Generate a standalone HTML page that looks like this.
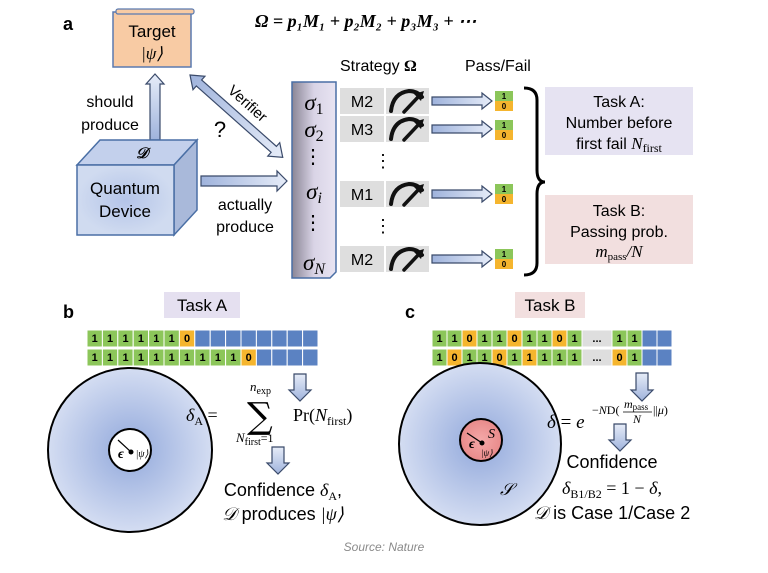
<!DOCTYPE html>
<html><head><meta charset="utf-8"><style>
body{margin:0;background:#fff}
svg{font-family:"Liberation Sans",sans-serif}
.s{font-family:"Liberation Serif",serif;font-style:italic}
.n{font-style:normal}
</style></head><body>
<svg width="768" height="568" viewBox="0 0 768 568" xmlns="http://www.w3.org/2000/svg">
<defs>
<linearGradient id="ar" x1="0" x2="1"><stop offset="0" stop-color="#9fb3dc"/><stop offset="1" stop-color="#e6ecf8"/></linearGradient>
<linearGradient id="arv" x1="0" y1="0" x2="0" y2="1"><stop offset="0" stop-color="#e6ecf8"/><stop offset="1" stop-color="#9fb3dc"/></linearGradient>
<linearGradient id="sg" x1="0" x2="1"><stop offset="0" stop-color="#8a8595"/><stop offset="0.5" stop-color="#d9d4e6"/><stop offset="1" stop-color="#e8e4f2"/></linearGradient>
<radialGradient id="cb"><stop offset="0" stop-color="#b4c4e8"/><stop offset="1" stop-color="#d0dbf0"/></radialGradient>
<radialGradient id="dc"><stop offset="0.2" stop-color="#9fb3e0"/><stop offset="1" stop-color="#d4ddf2"/></radialGradient>
<radialGradient id="rc"><stop offset="0" stop-color="#f4a8a8"/><stop offset="1" stop-color="#e88a8a"/></radialGradient>
<g id="meter"><path d="M-16,10 Q-14,-8 2,-10 Q10,-10 15,-4" fill="none" stroke="#111" stroke-width="4" stroke-linecap="round"/><path d="M-3,11 L13,-6" stroke="#111" stroke-width="3.5" stroke-linecap="round"/><path d="M17,-10 L7,-7 L14,0 Z" fill="#111"/></g>
</defs>
<text x="63" y="30" font-size="18" font-weight="bold">a</text>
<text x="255" y="27" font-size="18" class="s" font-weight="bold">Ω = p₁M₁ + p₂M₂ + p₃M₃ + ⋯</text>
<rect x="113" y="12" width="78" height="55" fill="#f8cba4" stroke="#5a7ab0" stroke-width="1.5"/>
<rect x="116" y="9" width="78" height="5" rx="2" fill="#f8cba4" stroke="#5a7ab0" stroke-width="1.2"/>
<text x="152" y="37" font-size="17" text-anchor="middle">Target</text>
<text x="152" y="59" font-size="17" text-anchor="middle" class="s">|ψ⟩</text>
<path d="M150,140 V84 H146 L155,74 L164,84 H160 V140 Z" fill="url(#arv)" stroke="#3a4a6a" stroke-width="1.2"/>
<text x="110" y="107" font-size="16" text-anchor="middle">should</text>
<text x="110" y="130" font-size="16" text-anchor="middle">produce</text>
<g transform="translate(190,75) rotate(41.6)">
<path d="M0,0 L12,-9 V-4 H112 V-9 L124,0 L112,9 V4 H12 V9 Z" fill="url(#ar)" stroke="#3a4a6a" stroke-width="1.2"/>
<text x="62" y="-12" font-size="15" text-anchor="middle">Verifier</text>
</g>
<text x="220" y="137" font-size="22" text-anchor="middle">?</text>
<path d="M77,165 L100,140 L197,140 L174,165 Z" fill="#c3d0ec" stroke="#4a6fa5" stroke-width="1.5"/>
<path d="M174,165 L197,140 L197,210 L174,235 Z" fill="#a9b9da" stroke="#4a6fa5" stroke-width="1.5"/>
<rect x="77" y="165" width="97" height="70" fill="url(#cb)" stroke="#4a6fa5" stroke-width="1.5"/>
<text x="142" y="158" font-size="15" class="s" text-anchor="middle" font-weight="bold">𝒟</text>
<text x="125" y="194" font-size="17" text-anchor="middle">Quantum</text>
<text x="125" y="217" font-size="17" text-anchor="middle">Device</text>
<path d="M201,176 H277 V171 L287,181 L277,191 V186 H201 Z" fill="url(#ar)" stroke="#3a4a6a" stroke-width="1.2"/>
<text x="245" y="210" font-size="16" text-anchor="middle">actually</text>
<text x="245" y="232" font-size="16" text-anchor="middle">produce</text>
<path d="M292,82 H336 V272 L330,278 H292 Z" fill="url(#sg)" stroke="#4a6fa5" stroke-width="1.5"/>
<g font-size="23" class="s" text-anchor="middle">
<text x="314" y="110">σ<tspan font-size="16" class="n" dy="4">1</tspan></text>
<text x="314" y="137">σ<tspan font-size="16" class="n" dy="4">2</tspan></text>
<text x="314" y="199">σ<tspan font-size="16" dy="4">i</tspan></text>
<text x="314" y="270">σ<tspan font-size="16" dy="4">N</tspan></text>
<text x="313" y="163" class="n" font-size="20">⋮</text><text x="313" y="229" class="n" font-size="20">⋮</text>
</g>
<text x="340" y="71" font-size="16">Strategy <tspan font-weight="bold" font-family="Liberation Serif">Ω</tspan></text>
<text x="465" y="71" font-size="16">Pass/Fail</text>
<g font-size="16">
<rect x="340" y="88" width="44" height="26" fill="#dedede"/><rect x="386" y="88" width="43" height="26" fill="#dedede"/><text x="362" y="107" text-anchor="middle">M2</text>
<rect x="340" y="116" width="44" height="26" fill="#dedede"/><rect x="386" y="116" width="43" height="26" fill="#dedede"/><text x="362" y="135" text-anchor="middle">M3</text>
<rect x="340" y="181" width="44" height="26" fill="#dedede"/><rect x="386" y="181" width="43" height="26" fill="#dedede"/><text x="362" y="200" text-anchor="middle">M1</text>
<rect x="340" y="246" width="44" height="26" fill="#dedede"/><rect x="386" y="246" width="43" height="26" fill="#dedede"/><text x="362" y="265" text-anchor="middle">M2</text>
<text x="383" y="167" font-size="18" text-anchor="middle">⋮</text><text x="383" y="232" font-size="18" text-anchor="middle">⋮</text>
</g>
<use href="#meter" x="407" y="101"/>
<use href="#meter" x="407" y="129"/>
<use href="#meter" x="407" y="194"/>
<use href="#meter" x="407" y="259"/>
<g stroke="#3a4a6a" stroke-width="1.2" fill="url(#ar)">
<path d="M432,97 H482 V93 L492,101 L482,109 V105 H432 Z"/>
<path d="M432,125 H482 V121 L492,129 L482,137 V133 H432 Z"/>
<path d="M432,190 H482 V186 L492,194 L482,202 V198 H432 Z"/>
<path d="M432,255 H482 V251 L492,259 L482,267 V263 H432 Z"/>
</g>
<g font-size="8" font-weight="bold" text-anchor="middle">
<rect x="495" y="91" width="18" height="10" fill="#8cc65a"/><rect x="495" y="101" width="18" height="10" fill="#f5b52e"/><text x="504" y="99">1</text><text x="504" y="109">0</text>
<rect x="495" y="120" width="18" height="10" fill="#8cc65a"/><rect x="495" y="130" width="18" height="10" fill="#f5b52e"/><text x="504" y="128">1</text><text x="504" y="138">0</text>
<rect x="495" y="184" width="18" height="10" fill="#8cc65a"/><rect x="495" y="194" width="18" height="10" fill="#f5b52e"/><text x="504" y="192">1</text><text x="504" y="202">0</text>
<rect x="495" y="249" width="18" height="10" fill="#8cc65a"/><rect x="495" y="259" width="18" height="10" fill="#f5b52e"/><text x="504" y="257">1</text><text x="504" y="267">0</text>
</g>
<path d="M524,88 Q537,88 537,100 V170 Q537,182 545,182 Q537,182 537,194 V263 Q537,275 524,275" fill="none" stroke="#000" stroke-width="3"/>
<rect x="545" y="87" width="148" height="68" fill="#e6e3f2"/>
<text x="619" y="107" font-size="16" text-anchor="middle">Task A:</text>
<text x="619" y="128" font-size="16" text-anchor="middle">Number before</text>
<text x="619" y="149" font-size="16" text-anchor="middle">first fail <tspan class="s" font-size="17">N</tspan><tspan font-family="Liberation Serif" font-size="12" dy="3">first</tspan></text>
<rect x="545" y="195" width="148" height="69" fill="#f2dfdf"/>
<text x="619" y="216" font-size="16" text-anchor="middle">Task B:</text>
<text x="619" y="237" font-size="16" text-anchor="middle">Passing prob.</text>
<text x="619" y="257" font-size="17" text-anchor="middle" class="s">m<tspan font-size="11" class="n" dy="3">pass</tspan><tspan dy="-3">/N</tspan></text>
<!-- panel b -->
<text x="63" y="318" font-size="18" font-weight="bold">b</text>
<rect x="164" y="292" width="76" height="26" fill="#e5e0f0"/>
<text x="202" y="311" font-size="17" text-anchor="middle">Task A</text>
<g stroke="#fff" stroke-width="1">
<rect x="87" y="330" width="15.4" height="17" fill="#8cc65a"/><rect x="102.4" y="330" width="15.4" height="17" fill="#8cc65a"/><rect x="117.8" y="330" width="15.4" height="17" fill="#8cc65a"/><rect x="133.2" y="330" width="15.4" height="17" fill="#8cc65a"/><rect x="148.6" y="330" width="15.4" height="17" fill="#8cc65a"/><rect x="164" y="330" width="15.4" height="17" fill="#8cc65a"/><rect x="179.4" y="330" width="15.4" height="17" fill="#f5b52e"/><rect x="194.8" y="330" width="15.4" height="17" fill="#5b82c2"/><rect x="210.2" y="330" width="15.4" height="17" fill="#5b82c2"/><rect x="225.6" y="330" width="15.4" height="17" fill="#5b82c2"/><rect x="241" y="330" width="15.4" height="17" fill="#5b82c2"/><rect x="256.4" y="330" width="15.4" height="17" fill="#5b82c2"/><rect x="271.8" y="330" width="15.4" height="17" fill="#5b82c2"/><rect x="287.2" y="330" width="15.4" height="17" fill="#5b82c2"/><rect x="302.6" y="330" width="15.4" height="17" fill="#5b82c2"/>
<rect x="87" y="349" width="15.4" height="17" fill="#8cc65a"/><rect x="102.4" y="349" width="15.4" height="17" fill="#8cc65a"/><rect x="117.8" y="349" width="15.4" height="17" fill="#8cc65a"/><rect x="133.2" y="349" width="15.4" height="17" fill="#8cc65a"/><rect x="148.6" y="349" width="15.4" height="17" fill="#8cc65a"/><rect x="164" y="349" width="15.4" height="17" fill="#8cc65a"/><rect x="179.4" y="349" width="15.4" height="17" fill="#8cc65a"/><rect x="194.8" y="349" width="15.4" height="17" fill="#8cc65a"/><rect x="210.2" y="349" width="15.4" height="17" fill="#8cc65a"/><rect x="225.6" y="349" width="15.4" height="17" fill="#8cc65a"/><rect x="241" y="349" width="15.4" height="17" fill="#f5b52e"/><rect x="256.4" y="349" width="15.4" height="17" fill="#5b82c2"/><rect x="271.8" y="349" width="15.4" height="17" fill="#5b82c2"/><rect x="287.2" y="349" width="15.4" height="17" fill="#5b82c2"/><rect x="302.6" y="349" width="15.4" height="17" fill="#5b82c2"/>
</g>
<g font-size="11" font-weight="bold" text-anchor="middle">
<text x="94.7" y="342">1</text><text x="110.1" y="342">1</text><text x="125.5" y="342">1</text><text x="140.9" y="342">1</text><text x="156.3" y="342">1</text><text x="171.7" y="342">1</text><text x="187.1" y="342">0</text>
<text x="94.7" y="361">1</text><text x="110.1" y="361">1</text><text x="125.5" y="361">1</text><text x="140.9" y="361">1</text><text x="156.3" y="361">1</text><text x="171.7" y="361">1</text><text x="187.1" y="361">1</text><text x="202.5" y="361">1</text><text x="217.9" y="361">1</text><text x="233.3" y="361">1</text><text x="248.7" y="361">0</text>
</g>
<circle cx="130" cy="450" r="82" fill="url(#dc)" stroke="#000" stroke-width="2"/>
<circle cx="130" cy="450" r="21" fill="#fff" stroke="#000" stroke-width="2"/>
<circle cx="131" cy="452" r="2.5" fill="#000"/>
<path d="M131,452 L118,440" stroke="#000" stroke-width="1.2"/>
<text x="121" y="458" font-size="14" class="s" font-weight="bold" text-anchor="middle">ϵ</text>
<text x="142" y="457" font-size="10" class="s" text-anchor="middle">|ψ⟩</text>
<g stroke="#3a4a6a" stroke-width="1.2" fill="url(#arv)">
<path d="M294,374 H306 V390 H311 L300,401 L289,390 H294 Z"/>
<path d="M272,447 H284 V463 H289 L278,474 L267,463 H272 Z"/>
</g>
<g font-family="Liberation Serif" font-size="18">
<text x="186" y="421" class="s">δ<tspan class="n" font-size="12" dy="4">A</tspan><tspan class="n" dy="-4"> =</tspan></text>
<text x="247" y="428" font-size="36" font-family="DejaVu Serif">∑</text>
<text x="250" y="391" font-size="13" class="s">n<tspan class="n" font-size="10" dy="3">exp</tspan></text>
<text x="236" y="442" font-size="13" class="s">N<tspan class="n" font-size="10" dy="3">first</tspan><tspan class="n" font-size="12" dy="-3">=1</tspan></text>
<text x="293" y="421">Pr(<tspan class="s">N</tspan><tspan font-size="12" dy="4">first</tspan><tspan dy="-4">)</tspan></text>
</g>
<text x="283" y="496" font-size="18" text-anchor="middle">Confidence <tspan class="s" font-family="Liberation Serif">δ</tspan><tspan font-size="12" font-family="Liberation Serif" dy="4">A</tspan><tspan dy="-4">,</tspan></text>
<text x="283" y="520" font-size="18" text-anchor="middle"><tspan class="s" font-family="Liberation Serif">𝒟</tspan> produces <tspan font-family="Liberation Serif" class="s">|ψ⟩</tspan></text>
<!-- panel c -->
<text x="405" y="318" font-size="18" font-weight="bold">c</text>
<rect x="515" y="292" width="70" height="26" fill="#f2dfdf"/>
<text x="550" y="311" font-size="17" text-anchor="middle">Task B</text>
<g stroke="#fff" stroke-width="1">
<rect x="432" y="330" width="15" height="17" fill="#8cc65a"/><rect x="447" y="330" width="15" height="17" fill="#8cc65a"/><rect x="462" y="330" width="15" height="17" fill="#f5b52e"/><rect x="477" y="330" width="15" height="17" fill="#8cc65a"/><rect x="492" y="330" width="15" height="17" fill="#8cc65a"/><rect x="507" y="330" width="15" height="17" fill="#f5b52e"/><rect x="522" y="330" width="15" height="17" fill="#8cc65a"/><rect x="537" y="330" width="15" height="17" fill="#8cc65a"/><rect x="552" y="330" width="15" height="17" fill="#f5b52e"/><rect x="567" y="330" width="15" height="17" fill="#8cc65a"/><rect x="582" y="330" width="30" height="17" fill="#dedede"/><rect x="612" y="330" width="15" height="17" fill="#8cc65a"/><rect x="627" y="330" width="15" height="17" fill="#8cc65a"/><rect x="642" y="330" width="15" height="17" fill="#5b82c2"/><rect x="657" y="330" width="15" height="17" fill="#5b82c2"/>
<rect x="432" y="349" width="15" height="17" fill="#8cc65a"/><rect x="447" y="349" width="15" height="17" fill="#f5b52e"/><rect x="462" y="349" width="15" height="17" fill="#8cc65a"/><rect x="477" y="349" width="15" height="17" fill="#8cc65a"/><rect x="492" y="349" width="15" height="17" fill="#f5b52e"/><rect x="507" y="349" width="15" height="17" fill="#8cc65a"/><rect x="522" y="349" width="15" height="17" fill="#f5b52e"/><rect x="537" y="349" width="15" height="17" fill="#8cc65a"/><rect x="552" y="349" width="15" height="17" fill="#8cc65a"/><rect x="567" y="349" width="15" height="17" fill="#8cc65a"/><rect x="582" y="349" width="30" height="17" fill="#dedede"/><rect x="612" y="349" width="15" height="17" fill="#f5b52e"/><rect x="627" y="349" width="15" height="17" fill="#8cc65a"/><rect x="642" y="349" width="15" height="17" fill="#5b82c2"/><rect x="657" y="349" width="15" height="17" fill="#5b82c2"/>
</g>
<g font-size="11" font-weight="bold" text-anchor="middle">
<text x="439.5" y="342">1</text><text x="454.5" y="342">1</text><text x="469.5" y="342">0</text><text x="484.5" y="342">1</text><text x="499.5" y="342">1</text><text x="514.5" y="342">0</text><text x="529.5" y="342">1</text><text x="544.5" y="342">1</text><text x="559.5" y="342">0</text><text x="574.5" y="342">1</text><text x="597" y="342">...</text><text x="619.5" y="342">1</text><text x="634.5" y="342">1</text>
<text x="439.5" y="361">1</text><text x="454.5" y="361">0</text><text x="469.5" y="361">1</text><text x="484.5" y="361">1</text><text x="499.5" y="361">0</text><text x="514.5" y="361">1</text><text x="529.5" y="361">1</text><text x="544.5" y="361">1</text><text x="559.5" y="361">1</text><text x="574.5" y="361">1</text><text x="597" y="361">...</text><text x="619.5" y="361">0</text><text x="634.5" y="361">1</text>
</g>
<circle cx="480" cy="444" r="81" fill="url(#dc)" stroke="#000" stroke-width="2"/>
<circle cx="481" cy="440" r="21" fill="url(#rc)" stroke="#000" stroke-width="2"/>
<circle cx="482" cy="443" r="2.5" fill="#000"/>
<path d="M482,443 L467,433" stroke="#000" stroke-width="1.2"/>
<text x="469" y="448" font-size="14" class="s" font-weight="bold">ϵ</text>
<text x="488" y="438" font-size="14" class="s">S</text>
<text x="481" y="456" font-size="9" class="s">|ψ⟩</text>
<text x="500" y="495" font-size="17" class="s">𝒮</text>
<g stroke="#3a4a6a" stroke-width="1.2" fill="url(#arv)">
<path d="M636,373 H648 V390 H653 L642,401 L631,390 H636 Z"/>
<path d="M614,424 H626 V440 H631 L620,451 L609,440 H614 Z"/>
</g>
<g font-family="Liberation Serif">
<text x="547" y="428" font-size="19" class="s">δ <tspan class="n">=</tspan> e</text>
<text x="592" y="414" font-size="12">−<tspan class="s">N</tspan>D(</text>
<text x="624" y="408" font-size="12" class="s">m<tspan class="n" font-size="9" dy="2">pass</tspan></text>
<line x1="623" y1="412" x2="652" y2="412" stroke="#000" stroke-width="0.8"/>
<text x="633" y="423" font-size="12" class="s">N</text>
<text x="653" y="414" font-size="12">||<tspan class="s">μ</tspan>)</text>
</g>
<text x="612" y="468" font-size="18" text-anchor="middle">Confidence</text>
<text x="612" y="494" font-size="18" text-anchor="middle" font-family="Liberation Serif"><tspan class="s">δ</tspan><tspan font-size="12" dy="4">B1/B2</tspan><tspan dy="-4"> = 1 − </tspan><tspan class="s">δ</tspan>,</text>
<text x="612" y="519" font-size="18" text-anchor="middle"><tspan class="s">𝒟</tspan> is Case 1/Case 2</text>
<text x="384" y="551" font-size="12" fill="#8a8a8a" font-style="italic" text-anchor="middle">Source: Nature</text>
</svg>
</body></html>
